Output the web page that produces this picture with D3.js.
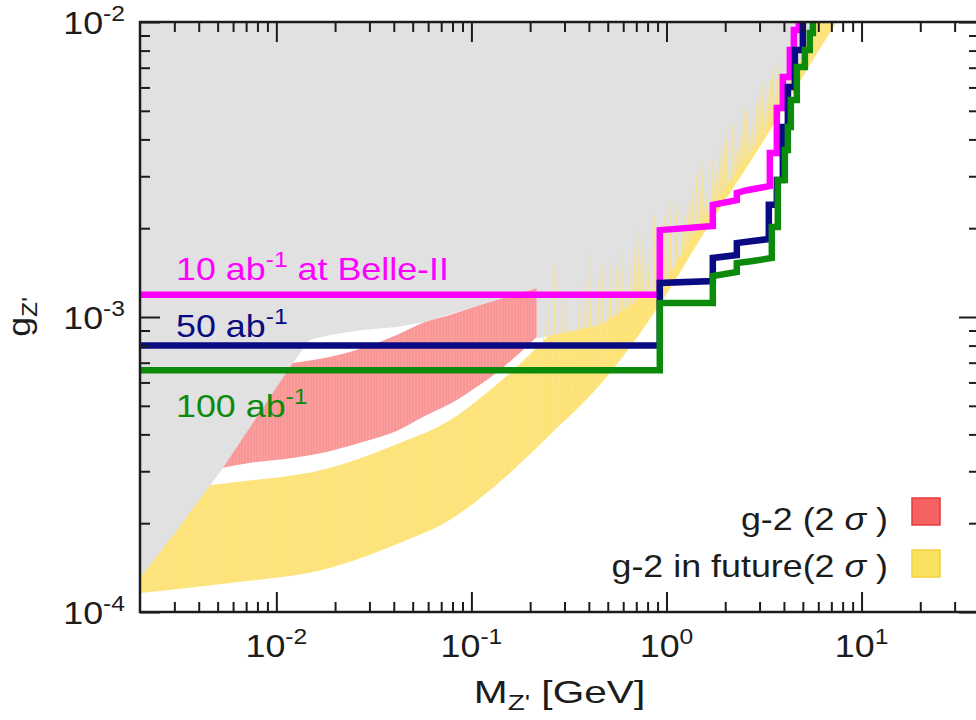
<!DOCTYPE html>
<html>
<head>
<meta charset="utf-8">
<script src="https://cdn.jsdelivr.net/npm/d3@7"></script>
<style>
  body { margin: 0; background: #fff; }
  svg { display: block; }
  text { font-family: "Liberation Sans", Arial, Helvetica, sans-serif; }
</style>
</head>
<body>
<svg id="chart" width="976" height="720"></svg>
<script>
// ---- axis ranges and tick labels ----
const massDomain = [0.002, 40];
const couplingDomain = [1e-4, 1e-2];
const massMajorTicks = [0.01, 0.1, 1, 10];
const massTickExponents = ["-2", "-1", "0", "1"];
const couplingMajorTicks = [1e-4, 1e-3, 1e-2];
const couplingTickExponents = ["-4", "-3", "-2"];

// ---- muon g-2 preferred band (current, 2 sigma) ----
const g2Mass  = [0.002, 0.00524, 0.00729, 0.01213, 0.01877, 0.02773, 0.0414, 0.0577, 0.0774, 0.1102, 0.124, 0.2163];
const g2Upper = [0.000544, 0.000636, 0.000661, 0.000698, 0.000732, 0.000785, 0.000869, 0.000962, 0.001016, 0.001098, 0.001124, 0.001254];
const g2Lower = [0.000276, 0.000308, 0.00032, 0.000333, 0.000351, 0.000377, 0.000411, 0.000462, 0.000507, 0.000588, 0.000621, 0.000855];

// ---- muon g-2 band with future precision (2 sigma) ----
const futureMass  = [0.002, 0.00576, 0.01877, 0.04289, 0.0774, 0.1396, 0.252, 0.455, 0.957, 1.48, 3.118, 7.125, 20];
const futureUpper = [0.000253, 0.000274, 0.000308, 0.000374, 0.000447, 0.000602, 0.000869, 0.001284, 0.002492, 0.003981, 0.00855, 0.0208, 0.058];
const futureLower = [0.000116, 0.0001254, 0.000141, 0.0001714, 0.000205, 0.000276, 0.000398, 0.000588, 0.001142, 0.001824, 0.003918, 0.00954, 0.0267];

// jagged upper fringe of the future band (mass, top coupling)
const fringeMass = [0.2349, 0.2461, 0.2675, 0.2905, 0.3045, 0.3509, 0.3766, 0.4043, 0.4443, 0.4714, 0.5119, 0.5561, 0.5899, 0.6184, 0.6484, 0.6878, 0.7126, 0.7469, 0.8017, 0.871, 0.924, 0.98, 1.04, 1.129, 1.227, 1.286, 1.348, 1.43, 1.517, 1.591, 1.728, 1.789, 1.876, 1.967, 2.038, 2.188, 2.294, 2.376, 2.491, 2.581, 2.738, 2.905, 3.01, 3.118, 3.307, 3.427, 3.509, 3.722];
const fringeTop  = [0.000977, 0.001142, 0.0015, 0.001234, 0.001142, 0.001142, 0.001335, 0.001622, 0.001388, 0.0015, 0.001585, 0.0015, 0.001687, 0.001284, 0.0015, 0.001727, 0.00197, 0.001897, 0.001687, 0.002217, 0.001824, 0.002217, 0.002492, 0.0024, 0.002252, 0.002492, 0.002803, 0.003078, 0.003405, 0.00269, 0.003405, 0.00315, 0.003683, 0.004303, 0.003981, 0.004546, 0.003683, 0.00414, 0.005232, 0.005031, 0.004655, 0.005439, 0.005656, 0.006213, 0.005882, 0.006358, 0.006878, 0.007433];

// ---- region already excluded (outline) ----
const excludedMass = [0.002, 5.77, 4.83, 3.118, 1.48, 0.957, 0.455, 0.2239, 0.2163, 0.2163, 0.1102, 0.0577, 0.0414, 0.02773, 0.01877, 0.01482, 0.01213, 0.0082, 0.00524, 0.00301, 0.002];
const excludedG    = [0.01, 0.01, 0.00732, 0.00414, 0.00205, 0.001284, 0.00094, 0.000849, 0.000849, 0.001254, 0.001098, 0.000962, 0.000925, 0.000904, 0.000869, 0.000836, 0.000698, 0.000473, 0.000303, 0.000185, 0.0001304];

// ---- Belle-II sensitivity for three integrated luminosities ----
const belle10Mass = [0.002, 0.924, 0.924, 1.728, 1.728, 2.294, 2.294, 2.582, 3.386, 3.386, 3.678, 3.678, 3.949, 3.949, 4.29, 4.29, 4.497, 4.497, 4.77, 4.77];
const belle10G    = [0.00119, 0.00119, 0.00197, 0.002035, 0.0024, 0.00249, 0.002633, 0.00269, 0.00278, 0.0036, 0.0036, 0.00511, 0.00511, 0.00651, 0.00651, 0.00804, 0.00804, 0.0094, 0.0094, 0.0106];
const belle50Mass = [0.002, 0.924, 0.924, 1.728, 1.728, 2.294, 2.294, 2.771, 3.346, 3.346, 3.678, 3.678, 3.949, 3.949, 4.19, 4.19, 4.55, 4.55, 5.0, 5.0];
const belle50G    = [0.0008, 0.0008, 0.001304, 0.001324, 0.001585, 0.001622, 0.00178, 0.00181, 0.001838, 0.0024, 0.0024, 0.002913, 0.002913, 0.004406, 0.004406, 0.006021, 0.006021, 0.00804, 0.00804, 0.0106];
const belle100Mass = [0.002, 0.924, 0.924, 1.728, 1.728, 2.294, 2.294, 2.771, 3.467, 3.467, 3.722, 3.722, 4.044, 4.044, 4.19, 4.19, 4.34, 4.34, 4.658, 4.658, 5.12, 5.12, 5.43, 5.43, 5.63, 5.63];
const belle100G    = [0.00066, 0.00066, 0.001116, 0.001116, 0.001377, 0.00142, 0.001524, 0.001548, 0.001585, 0.002019, 0.002019, 0.002913, 0.002913, 0.003683, 0.003683, 0.004406, 0.004406, 0.005439, 0.005439, 0.007038, 0.007038, 0.00804, 0.00804, 0.00918, 0.00918, 0.0106];

const belleLabels = ["10 ab", "50 ab", "100 ab"];
const legendLabels = ["g-2 (2", "g-2 in future(2"];

// ---- layout ----
const plot = { left: 140, top: 22, right: 979, bottom: 612 };
const SX = 1.12;            // horizontal stretch of the lettering
const FONT = 32, SUB = 22;
const colors = {
  grey: "#e1e1e1", red: "#f99696", redHatch: "#fbaaaa",
  yellow: "#fde276", yellowHatch: "#feea9c",
  magenta: "#ff00ff", navy: "#0a0a82", green: "#0c8a0c",
  legendRed: "#f66262", legendRedEdge: "#e23b3b",
  legendYellow: "#f9e05e", legendYellowEdge: "#f3d23e", ink: "#1c1c1c"
};

const svg = d3.select("#chart");
const x = d3.scaleLog().domain(massDomain).range([plot.left, plot.right]);
const y = d3.scaleLog().domain(couplingDomain).range([plot.bottom, plot.top]);

const defs = svg.append("defs");
defs.append("clipPath").attr("id", "plotClip").append("rect")
  .attr("x", plot.left).attr("y", plot.top)
  .attr("width", plot.right - plot.left).attr("height", plot.bottom - plot.top);

function hatch(id, base, line) {
  const p = defs.append("pattern").attr("id", id).attr("patternUnits", "userSpaceOnUse")
    .attr("width", 3).attr("height", 8);
  p.append("rect").attr("width", 3).attr("height", 8).attr("fill", base);
  p.append("rect").attr("width", 1).attr("height", 8).attr("fill", line).attr("opacity", 0.5);
}
hatch("redHatch", colors.red, colors.redHatch);
hatch("yellowHatch", colors.yellow, colors.yellowHatch);

const zip = (ms, a, b) => ms.map((m, i) => ({ m, hi: a[i], lo: b[i] }));
const band = d3.area().x(d => x(d.m)).y0(d => y(d.lo)).y1(d => y(d.hi)).curve(d3.curveMonotoneX);
const poly = d3.line().x(d => x(d.m)).y(d => y(d.g));

const layer = svg.append("g").attr("clip-path", "url(#plotClip)");

// future g-2 band
layer.append("path").attr("d", band(zip(futureMass, futureUpper, futureLower)))
  .attr("fill", "url(#yellowHatch)");

// current g-2 band
layer.append("path").attr("d", band(zip(g2Mass, g2Upper, g2Lower)))
  .attr("fill", "url(#redHatch)");

// excluded region
layer.append("path")
  .attr("d", poly(excludedMass.map((m, i) => ({ m, g: excludedG[i] }))) + "Z")
  .attr("fill", colors.grey);

// jagged fringe of the future band reaching into the excluded region
const lowerAt = m => {
  const lm = Math.log10(m);
  const lx = futureMass.map(Math.log10), ly = futureLower.map(Math.log10);
  const i = Math.max(1, d3.bisectLeft(lx, lm));
  const t = (lm - lx[i - 1]) / (lx[i] - lx[i - 1]);
  return Math.pow(10, ly[i - 1] + t * (ly[i] - ly[i - 1]));
};
layer.append("g").selectAll("path").data(fringeMass.map((m, i) => ({ m, top: fringeTop[i] })))
  .join("path")
  .attr("d", d => {
    const cx = x(d.m), yt = y(d.top), yb = y(lowerAt(d.m)) - 4;
    return `M${cx - 2.2},${yb}L${cx - 0.4},${yt}L${cx + 0.4},${yt}L${cx + 2.2},${yb}Z`;
  })
  .attr("fill", colors.yellow).attr("opacity", 0.7);

// Belle-II reach
const reach = [
  { ms: belle10Mass, gs: belle10G, c: colors.magenta },
  { ms: belle50Mass, gs: belle50G, c: colors.navy },
  { ms: belle100Mass, gs: belle100G, c: colors.green }
];
reach.forEach(r => {
  layer.append("path")
    .attr("d", poly(r.ms.map((m, i) => ({ m, g: r.gs[i] }))))
    .attr("fill", "none").attr("stroke", r.c).attr("stroke-width", 6.5)
    .attr("stroke-linejoin", "miter").attr("stroke-linecap", "butt");
});

// ---- text helper: stretched lettering with optional super/subscripts ----
function label(px, py, parts, opts = {}) {
  const t = svg.append("text")
    .attr("transform", `translate(${px},${py})${opts.rotate ? " rotate(" + opts.rotate + ")" : ""} scale(${opts.sx || SX},1)`)
    .attr("text-anchor", opts.anchor || "start")
    .attr("fill", opts.color || colors.ink)
    .attr("font-size", FONT);
  let shift = 0;
  parts.forEach(p => {
    const s = t.append("tspan").text(p.t);
    const want = p.sup ? -13 : p.sub ? 7 : 0;
    if (want !== shift) { s.attr("dy", want - shift); shift = want; }
    if (p.sup || p.sub) s.attr("font-size", SUB);
    if (p.italic) s.attr("font-style", "italic");
  });
  return t;
}

// Belle-II line labels
label(176, 280, [{ t: belleLabels[0] }, { t: "-1", sup: true }, { t: " at Belle-II" }], { color: colors.magenta });
label(176, 337, [{ t: belleLabels[1] }, { t: "-1", sup: true }], { color: colors.navy });
label(176, 417, [{ t: belleLabels[2] }, { t: "-1", sup: true }], { color: colors.green });

// ---- axes: inward ticks on all four sides ----
function minorTicks(domain) {
  const out = [];
  for (let e = Math.floor(Math.log10(domain[0])); e <= Math.ceil(Math.log10(domain[1])); e++) {
    for (let k = 2; k <= 9; k++) {
      const v = k * Math.pow(10, e);
      if (v > domain[0] * 1.0001 && v < domain[1] * 0.9999) out.push(v);
    }
  }
  return out;
}
const tickStyle = g => {
  g.select(".domain").remove();
  g.selectAll(".tick line").attr("stroke", colors.ink).attr("stroke-width", 2);
  g.selectAll(".tick text").remove();
};
const sides = [
  { gen: d3.axisBottom, s: x, at: `translate(0,${plot.bottom})`, major: massMajorTicks, dom: massDomain },
  { gen: d3.axisTop, s: x, at: `translate(0,${plot.top})`, major: massMajorTicks, dom: massDomain },
  { gen: d3.axisLeft, s: y, at: `translate(${plot.left},0)`, major: couplingMajorTicks, dom: couplingDomain },
  { gen: d3.axisRight, s: y, at: `translate(${plot.right},0)`, major: couplingMajorTicks, dom: couplingDomain }
];
sides.forEach(sd => {
  svg.append("g").attr("transform", sd.at)
    .call(sd.gen(sd.s).tickValues(sd.major).tickSize(-20).tickFormat(""))
    .call(tickStyle);
  svg.append("g").attr("transform", sd.at)
    .call(sd.gen(sd.s).tickValues(minorTicks(sd.dom)).tickSize(-10).tickFormat(""))
    .call(tickStyle);
});
svg.append("rect")
  .attr("x", plot.left).attr("y", plot.top)
  .attr("width", plot.right - plot.left).attr("height", plot.bottom - plot.top)
  .attr("fill", "none").attr("stroke", colors.ink).attr("stroke-width", 2.5);

// tick labels
massMajorTicks.forEach((v, i) =>
  label(x(v), 657, [{ t: "10" }, { t: massTickExponents[i], sup: true }], { anchor: "middle" }));
couplingMajorTicks.forEach((v, i) =>
  label(125, y(v) + 12, [{ t: "10" }, { t: couplingTickExponents[i], sup: true }], { anchor: "end" }));

// axis titles
label((plot.left + plot.right) / 2, 703, [{ t: "M" }, { t: "Z'", sub: true }, { t: " [GeV]" }], { anchor: "middle", sx: 1.27 });
label(30, (plot.top + plot.bottom) / 2, [{ t: "g" }, { t: "Z'", sub: true }], { anchor: "middle", rotate: -90 });

// legend
const legendItems = [
  { text: legendLabels[0], fill: colors.legendRed, edge: colors.legendRedEdge, base: 530, box: 498 },
  { text: legendLabels[1], fill: colors.legendYellow, edge: colors.legendYellowEdge, base: 577, box: 550 }
];
legendItems.forEach(it => {
  label(888, it.base, [{ t: it.text + " " }, { t: "σ", italic: true }, { t: " )" }], { anchor: "end" });
  svg.append("rect").attr("x", 912).attr("y", it.box).attr("width", 28).attr("height", 27)
    .attr("fill", it.fill).attr("stroke", it.edge).attr("stroke-width", 1.5);
});
</script>
</body>
</html>
